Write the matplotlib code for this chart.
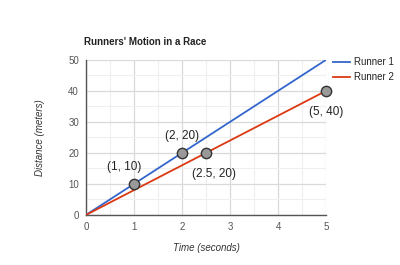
import matplotlib.pyplot as plt

# data
times = [0, 5]
runner1 = [0, 50]
runner2 = [0, 40]
point_x = [1, 2, 2.5, 5]
point_y = [10, 20, 20, 40]
point_labels = ["(1, 10)", "(2, 20)", "(2.5, 20)", "(5, 40)"]
label_offsets = [(-7, 8), (0, 8), (6, -11), (0, -11)]

plt.rcParams['font.family'] = ['Liberation Sans', 'DejaVu Sans']

fig = plt.figure(figsize=(4, 2.65), dpi=100)
ax = fig.add_axes([0.215, 0.189, 0.6, 0.585])

ax.plot(times, runner1, color='#3366cc', lw=1.3, label='Runner 1', zorder=3)
ax.plot(times, runner2, color='#dc3912', lw=1.3, label='Runner 2', zorder=3)
ax.scatter(point_x, point_y, s=55, color='#999999', edgecolor='#333333', lw=1, zorder=4, clip_on=False)
for x, y, t, off in zip(point_x, point_y, point_labels, label_offsets):
    ax.annotate(t, (x, y), xytext=off, textcoords='offset points', ha='center',
                va='bottom' if off[1] > 0 else 'top', fontsize=8.5, color='#222222')

ax.set_xlim(0, 5)
ax.set_ylim(0, 50)
ax.set_xticks(range(0, 6))
ax.set_yticks(range(0, 51, 10))
ax.set_xticks([0.5, 1.5, 2.5, 3.5, 4.5], minor=True)
ax.set_yticks([5, 15, 25, 35, 45], minor=True)
ax.grid(True, which='major', color='#d9d9d9', lw=0.9)
ax.grid(True, which='minor', color='#efefef', lw=0.8)
ax.tick_params(which='both', length=0, labelsize=7, colors='#555555', pad=5)
for s in ['top', 'right']:
    ax.spines[s].set_visible(False)
for s in ['left', 'bottom']:
    ax.spines[s].set_color('#555555')
    ax.spines[s].set_linewidth(1)

ax.set_title("Runners' Motion in a Race", loc='left', fontsize=7, fontweight='bold',
             color='#222222', pad=11, x=-0.01)
ax.set_xlabel('Time (seconds)', fontsize=7, style='italic', color='#333333', labelpad=8)
ax.set_ylabel('Distance (meters)', fontsize=7, style='italic', color='#333333', labelpad=17)

ax.legend(loc='upper left', bbox_to_anchor=(1.02, 1.03), frameon=False, fontsize=7,
          handlelength=1.8, handletextpad=0.4, borderaxespad=0, borderpad=0.2,
          labelcolor='#222222')

fig.savefig('out.png', dpi=100)
